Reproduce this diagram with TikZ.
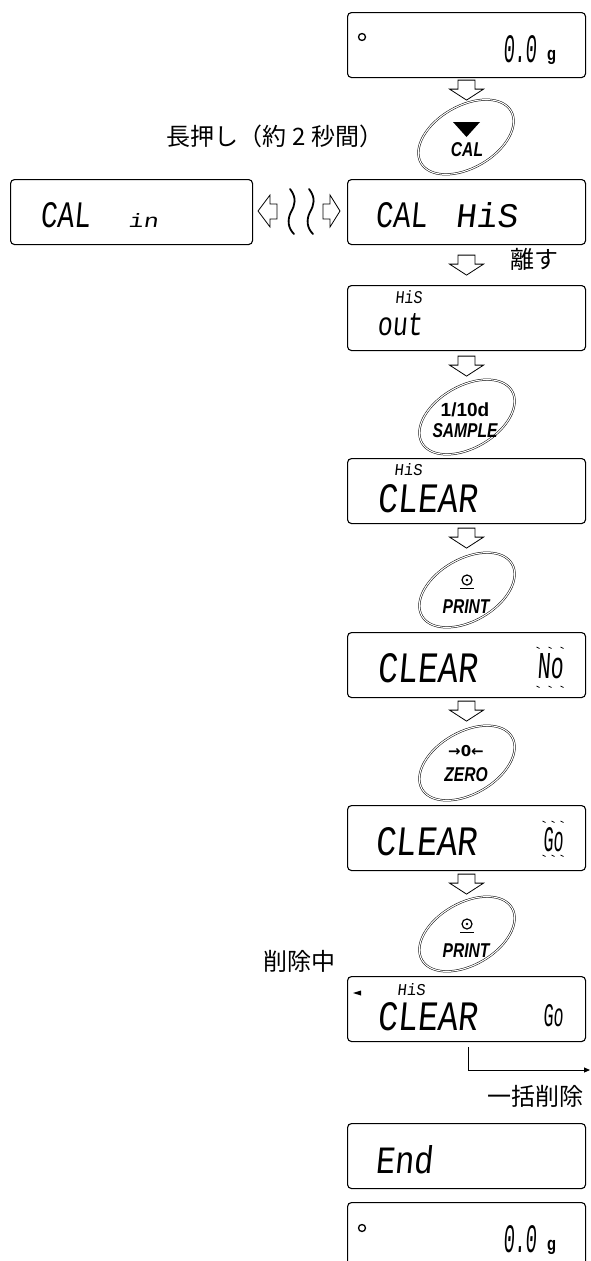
\documentclass[tikz,border=0pt]{standalone}
\usepackage{fontspec}
\usepackage{graphicx}
\usetikzlibrary{arrows.meta,shapes.geometric,calc}
\newfontfamily\segf{Liberation Mono}[FakeSlant=0.12]
\newfontfamily\jpf{Noto Sans CJK JP}
\newfontfamily\btnf{Liberation Sans}[FakeStretch=0.78]
\newfontfamily\btnn{Liberation Sans}
\newfontfamily\dvs{DejaVu Sans}
\newcommand{\sg}[3]{\resizebox{#1pt}{#2pt}{\segf #3}}
\begin{document}
\begin{tikzpicture}[x=1pt,y=-1pt,
  disp/.style={draw, line width=1.1pt, rounded corners=4pt, minimum width=238pt, minimum height=65pt, anchor=north west, inner sep=0pt},
  btn/.style={draw, ellipse, line width=0.5pt, double distance=1.1pt, minimum width=104pt, minimum height=62pt, rotate=30, inner sep=0pt},
  seg/.style={inner sep=0pt, anchor=base west},
  btnlab/.style={inner sep=0pt, font=\btnf\bfseries\itshape\fontsize{20}{20}\selectfont},
  jp/.style={inner sep=0pt, font=\jpf\fontsize{24}{24}\selectfont},
  gram/.style={inner sep=0pt, anchor=base west, font=\btnf\bfseries\fontsize{19}{19}\selectfont},
  blink/.style={line width=0.7pt},
  harrow/.pic={\draw[line width=0.8pt, fill=white] (-8.5,0) -- (-8.5,9) -- (-17,9) -- (0,20) -- (17,9) -- (8.5,9) -- (8.5,0) -- cycle;},
  printicon/.pic={\draw[line width=1.2pt] (0,0) circle (5); \fill (0,0) circle (1.4); \draw[line width=1.6pt] (-7,8.5) -- (7,8.5);}
]
\useasboundingbox (0,0) rectangle (590,1261);

% ---------- display boxes ----------
\node[disp] (d1) at (347,12) {};
\node[disp, minimum width=242pt] (dL) at (10,179) {};
\node[disp] (dR) at (347,179) {};
\node[disp] (d3) at (347,285) {};
\node[disp] (d4) at (347,458) {};
\node[disp] (d5) at (347,632) {};
\node[disp] (d6) at (347,805) {};
\node[disp] (d7) at (347,976) {};
\node[disp] (d8) at (347,1123) {};
\node[disp, minimum height=85pt] (d9) at (347,1202) {};

% ---------- display contents ----------
\draw[line width=1.3pt] (362,37) circle (3.5);
\node[seg] (t1) at (503,62) {\sg{34}{27}{0.0}};
\node[gram] (g1) at (547,60) {g};

\node[seg] (tL1) at (40,227) {\sg{50}{25}{CAL}};
\node[seg] (tL2) at (128,227) {\sg{30}{14}{in}};
\node[seg] (tR1) at (375,227) {\sg{52}{25}{CAL}};
\node[seg] (tR2) at (455,227) {\sg{62}{25}{HiS}};

\node[seg] (t3a) at (395,303) {\sg{27}{13}{HiS}};
\node[seg] (t3b) at (377,335) {\sg{45}{22}{out}};

\node[seg] (t4a) at (394,475) {\sg{28}{12}{HiS}};
\node[seg] (t4b) at (377,512) {\sg{100}{28}{CLEAR}};

\node[seg] (t5a) at (377,682) {\sg{100}{29}{CLEAR}};
\node[seg] (t5b) at (537,678) {\sg{26}{25}{No}};
\foreach \xx in {538,550,562} {\draw[blink] (\xx-1.5,647) -- (\xx+1.5,648.5); \draw[blink] (\xx-1.5,686) -- (\xx+1.5,687.5);}

\node[seg] (t6a) at (375,855) {\sg{102}{28}{CLEAR}};
\node[seg] (t6b) at (543,851) {\sg{20}{24}{Go}};
\foreach \xx in {544,553,562} {\draw[blink] (\xx-1.5,821) -- (\xx+1.5,822.5); \draw[blink] (\xx-1.5,855) -- (\xx+1.5,856.5);}

\fill (353,993) -- (361,990.5) -- (361,995.5) -- cycle;
\node[seg] (t7a) at (397,995) {\sg{28}{12}{HiS}};
\node[seg] (t7b) at (377,1030) {\sg{100}{28}{CLEAR}};
\node[seg] (t7c) at (543,1026) {\sg{20}{22}{Go}};

\node[seg] (t8) at (375,1173) {\sg{58}{28}{End}};

\draw[line width=1.3pt] (362,1228) circle (3.5);
\node[seg] (t9) at (503,1252) {\sg{34}{27}{0.0}};
\node[gram] (g9) at (547,1250) {g};

% ---------- buttons ----------
\node[btn] (bCAL) at (466,137) {};
\fill (453,122) -- (480,122) -- (466.5,137) -- cycle;
\node[btnlab] (lCAL) at (467,150) {CAL};

\node[btn] (bSMP) at (467,417) {};
\node[inner sep=0pt, font=\btnn\bfseries\fontsize{19}{19}\selectfont] (l110) at (465,410) {1/10d};
\node[btnlab] (lSMP) at (465,431) {SAMPLE};

\node[btn] (bPR1) at (467,590) {};
\pic at (467,580) {printicon};
\node[btnlab] (lPR1) at (466,607) {PRINT};

\node[btn] (bZER) at (467,763) {};
\node[inner sep=0pt, font=\dvs\bfseries\fontsize{15}{15}\selectfont] (lZ0) at (466,751) {→0←};
\node[btnlab] (lZER) at (466,775) {ZERO};

\node[btn] (bPR2) at (467,934) {};
\pic at (467,924) {printicon};
\node[btnlab] (lPR2) at (466,951) {PRINT};

% ---------- arrows ----------
\pic at ($(d1.south)+(0,2)$) {harrow};
\pic at ($(dR.south)+(0,10)$) {harrow};
\pic at ($(d3.south)+(0,5)$) {harrow};
\pic at ($(d4.south)+(0,4)$) {harrow};
\pic at ($(d5.south)+(0,3)$) {harrow};
\pic at ($(d6.south)+(0,3)$) {harrow};

% row 2 side arrows
\draw[line width=0.8pt] (258,211) -- (270,195) -- (270,204) -- (277,204) -- (277,219) -- (270,219) -- (270,227) -- cycle;
\draw[line width=0.8pt] (340,211) -- (330,195) -- (330,204) -- (323,204) -- (323,219) -- (330,219) -- (330,227) -- cycle;
\draw[line width=1.8pt, line cap=round] (290,189) .. controls (297,198) and (295,205) .. (291,212) .. controls (287,220) and (288,228) .. (294,234);
\draw[line width=1.8pt, line cap=round] (309,189) .. controls (316,198) and (314,205) .. (310,212) .. controls (306,220) and (307,228) .. (313,234);

% final connector
\coordinate (c1) at (468,1047);
\coordinate (c2) at (590,1070);
\draw[line width=0.9pt, -{Triangle[length=6pt,width=5pt]}] (c1) |- (c2);

% ---------- Japanese labels ----------
\node[jp] (j1) at (275,136) {長押し（約 2 秒間）};
\node[jp] (j2) at (534,259) {離す};
\node[jp] (j3) at (299,961) {削除中};
\node[jp] (j4) at (535,1096) {一括削除};
\end{tikzpicture}
\end{document}
